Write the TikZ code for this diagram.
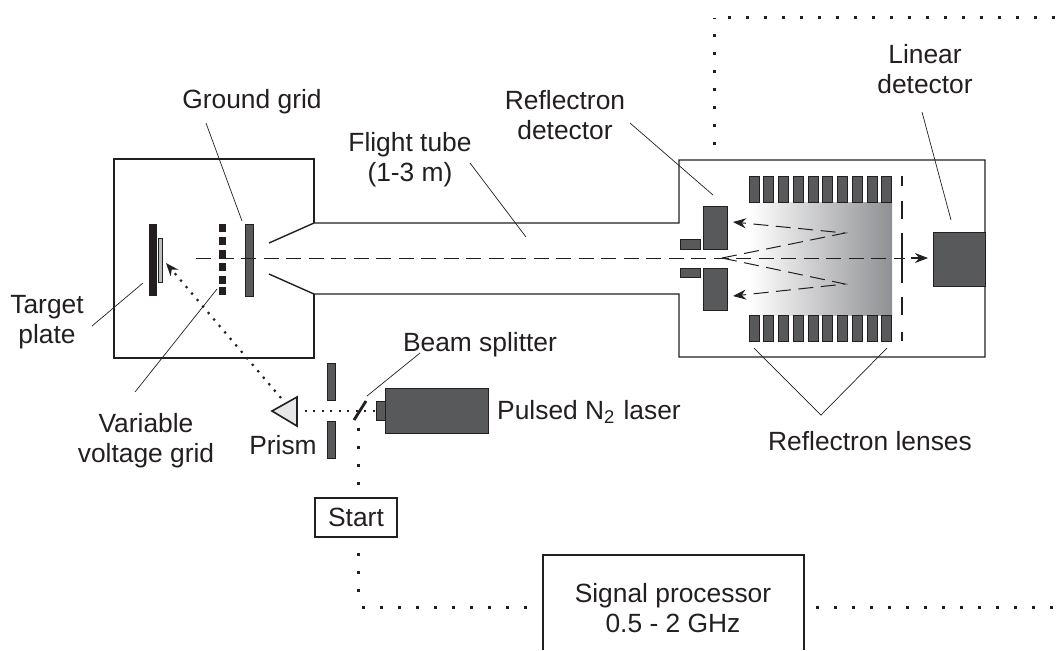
\documentclass[tikz,border=0pt]{standalone}
\usepackage{fontspec}
\setmainfont{Liberation Sans}
\usetikzlibrary{arrows.meta}
\definecolor{ink}{HTML}{231F20}
\definecolor{slab}{HTML}{58595B}
\definecolor{foil}{HTML}{BCBEC0}
\definecolor{glass}{HTML}{E6E7E8}
\definecolor{fade}{HTML}{8F9093}
\tikzset{
 wall/.style={draw=ink,line width=0.014cm},
 part/.style={draw=ink,fill=slab,line width=0.01cm},
 leader/.style={draw=ink,line width=0.007cm},
 beam/.style={draw=ink,line width=0.01cm,dash pattern=on 0.15cm off 0.075cm},
 bigdots/.style={draw=ink,line width=0.03cm,dash pattern=on 0.03cm off 0.15cm},
 smalldots/.style={draw=ink,line width=0.022cm,dash pattern=on 0.022cm off 0.063cm},
 lbl/.style={align=center,text=ink,inner sep=0pt,font=\fontsize{7.5}{8.6}\selectfont},
 tip/.style={-{Stealth[length=0.13cm,width=0.1cm]}}
}

\begin{document}
\begin{tikzpicture}[x=0.01cm,y=-0.01cm]
\useasboundingbox (0,0) rectangle (1060,650);

% labels
\node[lbl] (ground) at (252,102) {Ground grid};
\node[lbl] (tube) at (410,160) {Flight tube\\(1-3 m)};
\node[lbl] (refl) at (565,115) {Reflectron\\detector};
\node[lbl] (lin) at (925,69) {Linear\\detector};
\node[lbl] (target) at (47,322) {Target\\plate};
\node[lbl] (variable) at (146,441) {Variable\\voltage grid};
\node[lbl] (prism) at (283,445) {Prism};
\node[lbl] (splitter) at (480,345) {Beam splitter};
\node[lbl] (laserlbl) at (589,412) {Pulsed N\textsubscript{2} laser};
\node[lbl] (lenses) at (870,441) {Reflectron lenses};

% chamber and tube
\draw[wall] (314,223) -- (314,159) -- (114,159) -- (114,358) -- (314,358) -- (314,294);
\draw[wall] (269,243) -- (314,223) -- (679,223) -- (679,160) -- (985,160) -- (985,357) -- (679,357) -- (679,294) -- (314,294) -- (269,274);

% source
\fill[ink] (149,224) rectangle (157,296);
\draw[draw=ink,fill=foil,line width=0.007cm] (158,238) rectangle (162,282);
\foreach \y in {224,237,250,263,276,287} {
 \fill[ink] (219,\y) rectangle (226,\y+8);
 }
\draw[part] (245,224) rectangle (253,296);

% reflectron
\shade[left color=white,right color=fade] (749,202) rectangle (892,315);
\foreach \i in {0,...,9} {
 \draw[part] (749+14.75*\i,176) rectangle (759+14.75*\i,202);
 \draw[part] (749+14.75*\i,315) rectangle (759+14.75*\i,341);
 }
\foreach \a/\b in {176/186,201/219,233/283,297/315,332/341} {
 \draw[draw=ink,line width=0.011cm] (902,\a) -- (902,\b);
 }
\draw[part] (703,206) rectangle (727,249);
\draw[part] (703,268) rectangle (727,310);
\draw[part] (680,239) rectangle (700,249);
\draw[part] (680,268) rectangle (700,277);
\draw[part] (933,232) rectangle (985,286);

% ion paths
\draw[beam] (196,258) -- (905,258);
\draw[draw=ink,line width=0.011cm,tip] (911,258) -- (928,258);
\draw[beam,tip] (722,258) -- (845,233) -- (733,222);
\draw[beam,tip] (722,258) -- (845,284) -- (733,296);

% laser side
\draw[part] (327,363) rectangle (335,400);
\draw[part] (327,421) rectangle (335,458);
\draw[part] (376,401) rectangle (385,420);
\draw[part] (385,388) rectangle (488,433);
\draw[draw=ink,line width=0.028cm] (354,420) -- (366,401);
\draw[draw=ink,fill=glass,line width=0.016cm] (272,411) -- (297,397) -- (297,426) -- cycle;
\coordinate (beamstart) at (375,411);
\coordinate (prismin) at (291,411);
\coordinate (prismout) at (281,398);
\coordinate (foilspot) at (166,263);
\draw[smalldots] (beamstart) -- (prismin);
\draw[smalldots,tip] (prismout) -- (foilspot);

% start and processor
\node[draw=ink,line width=0.012cm,lbl,minimum width=0.82cm,minimum height=0.39cm] (start) at (356,517.5) {Start};
\draw[wall] (543,650) -- (543,555) -- (804,555) -- (804,650);
\node[lbl,text depth=0pt] (signal) at (673,608) {Signal processor\\0.5 - 2 GHz};

% timing lines
\coordinate (splitdot) at (358,428);
\coordinate (startin) at (358,498);
\coordinate (startout) at (358,553);
\coordinate (bend) at (358,607);
\coordinate (sigin) at (543,607);
\coordinate (sigout) at (816,607);
\coordinate (rightedge) at (1060,607);
\coordinate (tubedot) at (714,145);
\coordinate (cornerdot) at (714,18);
\coordinate (topdot) at (728,17);
\coordinate (topedge) at (1060,17);
\draw[bigdots] (splitdot) -- (startin);
\draw[bigdots] (startout) -- (bend);
\draw[bigdots] (362,607) -- (sigin);
\draw[bigdots] (sigout) -- (rightedge);
\draw[bigdots] (tubedot) -- (cornerdot);
\draw[bigdots] (topdot) -- (topedge);

% leaders
\coordinate (a1) at (206,123);
\coordinate (a2) at (242,221);
\coordinate (b1) at (470,163);
\coordinate (b2) at (526,237);
\coordinate (c1) at (630,123);
\coordinate (c2) at (713,195);
\coordinate (d1) at (922,112);
\coordinate (d2) at (951,220);
\coordinate (e1) at (92,326);
\coordinate (e2) at (143,283);
\coordinate (f1) at (135,392);
\coordinate (f2) at (217,289);
\coordinate (g1) at (420,353);
\coordinate (g2) at (367,396);
\coordinate (h1) at (754,348);
\coordinate (h2) at (821,415);
\coordinate (h3) at (887,348);
\draw[leader] (a1) -- (a2);
\draw[leader] (b1) -- (b2);
\draw[leader] (c1) -- (c2);
\draw[leader] (d1) -- (d2);
\draw[leader] (e1) -- (e2);
\draw[leader] (f1) -- (f2);
\draw[leader] (g1) -- (g2);
\draw[leader] (h1) -- (h2) -- (h3);
\end{tikzpicture}
\end{document}
